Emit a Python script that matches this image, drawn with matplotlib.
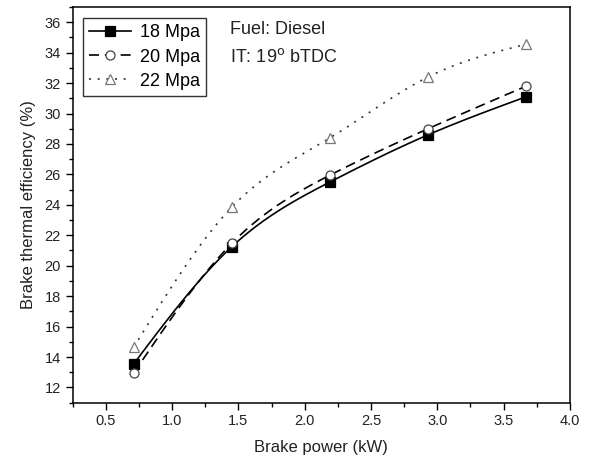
import numpy as np
import matplotlib
matplotlib.use("Agg")
import matplotlib.pyplot as plt
from matplotlib.ticker import MultipleLocator

plt.rcParams['font.family'] = ['Liberation Sans', 'DejaVu Sans']

brake_power = [0.71, 1.45, 2.19, 2.93, 3.67]
bte_18 = [13.55, 21.25, 25.5, 28.6, 31.1]
bte_20 = [12.95, 21.47, 25.95, 29.0, 31.8]
bte_22 = [14.65, 23.85, 28.4, 32.4, 34.55]
labels = ['18 Mpa', '20 Mpa', '22 Mpa']


def natural_spline(x, y, n=200):
    x = np.asarray(x, float); y = np.asarray(y, float)
    k = len(x); h = np.diff(x)
    A = np.zeros((k, k)); b = np.zeros(k)
    A[0, 0] = A[-1, -1] = 1
    for i in range(1, k - 1):
        A[i, i - 1] = h[i - 1]; A[i, i] = 2 * (h[i - 1] + h[i]); A[i, i + 1] = h[i]
        b[i] = 3 * ((y[i + 1] - y[i]) / h[i] - (y[i] - y[i - 1]) / h[i - 1])
    c = np.linalg.solve(A, b)
    xs = np.linspace(x[0], x[-1], n); ys = np.empty_like(xs)
    for j, xv in enumerate(xs):
        i = min(np.searchsorted(x, xv, side='right') - 1, k - 2)
        bi = (y[i + 1] - y[i]) / h[i] - h[i] * (2 * c[i] + c[i + 1]) / 3
        di = (c[i + 1] - c[i]) / (3 * h[i])
        t = xv - x[i]
        ys[j] = y[i] + bi * t + c[i] * t ** 2 + di * t ** 3
    return xs, ys


fig = plt.figure(figsize=(5.9, 4.65), dpi=100)
ax = fig.add_axes([0.1232, 0.134, 0.8428, 0.851])

styles = [
    dict(ls='-', marker='s', mfc='black', mec='black', lc='black'),
    dict(ls=(0, (6, 3.5)), marker='o', mfc='white', mec='#444444', lc='black'),
    dict(ls=(0, (1.2, 4)), marker='^', mfc='white', mec='#777777', lc='#333333'),
]
handles = []
for yv, lab, st in zip([bte_18, bte_20, bte_22], labels, styles):
    xs, ys = natural_spline(brake_power, yv)
    ax.plot(xs, ys, ls=st['ls'], color=st['lc'], lw=1.2, zorder=2)
    ax.plot(brake_power, yv, ls='none', marker=st['marker'], ms=6.5,
            mfc=st['mfc'], mec=st['mec'], mew=0.9, zorder=3)
    h, = ax.plot([], [], ls=st['ls'], color=st['lc'], lw=1.2, marker=st['marker'],
                 ms=6.5, mfc=st['mfc'], mec=st['mec'], mew=0.9, label=lab)
    handles.append(h)

ax.set_xlim(0.25, 4.0)
ax.set_ylim(11, 37)
ax.xaxis.set_minor_locator(MultipleLocator(0.25))
ax.yaxis.set_major_locator(MultipleLocator(2))
ax.yaxis.set_minor_locator(MultipleLocator(1))
ax.set_xticks(np.arange(0.5, 4.01, 0.5))
ax.set_xticklabels(['0.5', '1.0', '1.5', '2.0', '2.5', '3.0', '3.5', '4.0'])
ax.tick_params(which='major', direction='out', length=5, width=1, labelsize=10.5,
               colors='black', labelcolor='#222222')
ax.tick_params(which='minor', direction='out', length=3, width=1)
for s in ax.spines.values():
    s.set_linewidth(1.1)

ax.set_xlabel('Brake power (kW)', fontsize=12, labelpad=8, color='#222222')
ax.set_ylabel('Brake thermal efficiency (%)', fontsize=12, labelpad=6, color='#222222')

leg = ax.legend(handles=handles, loc='upper left', bbox_to_anchor=(0.021, 0.972),
                fontsize=13, frameon=True, fancybox=False, edgecolor='black',
                handlelength=2.3, handletextpad=0.5, borderpad=0.35, labelspacing=0.4,
                borderaxespad=0.0)
leg.get_frame().set_linewidth(1.0)

ax.text(0.316, 0.942, 'Fuel: Diesel', transform=ax.transAxes, fontsize=13, va='center',
        color='#222222')
ax.text(0.316, 0.874, 'IT: 19$^{\\mathrm{o}}$ bTDC', transform=ax.transAxes, fontsize=13,
        va='center', color='#222222')

fig.savefig('out.png', dpi=100)
